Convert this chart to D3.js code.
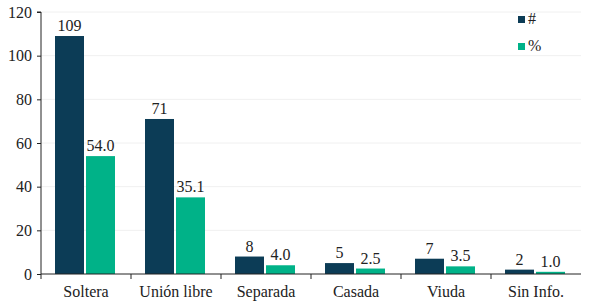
<!DOCTYPE html>
<html><head><meta charset="utf-8">
<script src="https://cdn.jsdelivr.net/npm/d3@7"></script>
<style>
body{margin:0;background:#fff;}
svg text{font-family:"Liberation Serif","DejaVu Serif",serif !important;fill:#222;}
</style></head>
<body><svg id="c" width="589" height="307"></svg>
<script>
const categories = ["Soltera","Unión libre","Separada","Casada","Viuda","Sin Info."];
const countValues = [109,71,8,5,7,2];
const pctValues = [54.0,35.1,4.0,2.5,3.5,1.0];
const seriesNames = ["#","%"];
const yTicks = [0,20,40,60,80,100,120];

const svg = d3.select("#c");
const m = {l:41};
const x = d3.scaleBand().domain(categories).range([m.l, 581]).paddingInner(0).paddingOuter(0);
const y = d3.scaleLinear().domain([0,120]).range([274, 12]);
const colors = ["#0c3c56","#00b288"];

// gridlines
svg.append("g").selectAll("line").data(yTicks.filter(d=>d>0)).join("line")
  .attr("x1", m.l).attr("x2", 581).attr("y1", d=>y(d)).attr("y2", d=>y(d))
  .attr("stroke", "#f0f0f0").attr("stroke-width", 1);

const bw = 29, gap = 2, off = 14;
const data = categories.map((c,i)=>({c, v:[countValues[i], pctValues[i]]}));
const g = svg.append("g");
data.forEach(d=>{
  d.v.forEach((v,j)=>{
    const x0 = x(d.c) + off + j*(bw+gap);
    g.append("rect").attr("x", x0).attr("y", y(v)).attr("width", bw).attr("height", y(0)-y(v))
      .attr("fill", colors[j]);
    g.append("text").attr("x", x0+bw/2).attr("y", y(v)-5).attr("text-anchor","middle")
      .style("font-size", "16px").text(j===0 ? d3.format("d")(v) : d3.format(".1f")(v));
  });
});

// y axis
const ya = svg.append("g").attr("transform", `translate(${m.l},0)`)
  .call(d3.axisLeft(y).tickValues(yTicks).tickSize(4).tickPadding(5));
ya.attr("font-family", null).attr("font-size", null);
ya.select(".domain").attr("stroke","#222").attr("d", `M-4,${y(120)}H0V${y(0)}`);
ya.selectAll(".tick line").attr("stroke","#222");
ya.selectAll(".tick text").style("font-size","16px").attr("fill","#222");

// x axis
const xa = svg.append("g").attr("transform", `translate(0,${y(0)})`)
  .call(d3.axisBottom(x).tickSize(0).tickPadding(12));
xa.attr("font-family", null).attr("font-size", null);
xa.select(".domain").attr("stroke","#222").attr("d", `M${m.l},0H581`);
xa.selectAll(".tick text").style("font-size","16px").attr("fill","#222");
// boundary ticks
svg.append("g").selectAll("line").data(categories.slice(1).map(c=>x(c)).concat([m.l])).join("line")
  .attr("x1", d=>d).attr("x2", d=>d).attr("y1", y(0)).attr("y2", y(0)+5).attr("stroke","#222");

// legend
const lg = svg.append("g");
seriesNames.forEach((s,i)=>{
  const ly = 20 + i*27;
  lg.append("rect").attr("x", 518).attr("y", ly-4).attr("width", 7).attr("height", 7).attr("fill", colors[i]);
  lg.append("text").attr("x", 528).attr("y", ly+4).style("font-size", "16px").text(s);
});
</script></body></html>
